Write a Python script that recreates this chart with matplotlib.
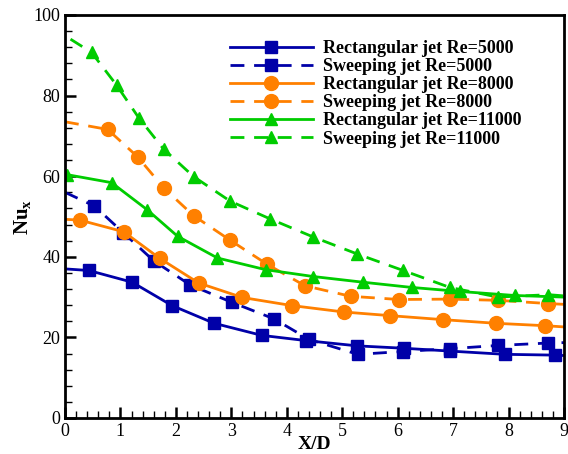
import matplotlib
matplotlib.use('Agg')
import matplotlib.pyplot as plt
from matplotlib.ticker import MultipleLocator

plt.rcParams['font.family'] = ['Liberation Serif', 'DejaVu Serif']
plt.rcParams['mathtext.fontset'] = 'custom'
plt.rcParams['mathtext.rm'] = 'Liberation Serif'
plt.rcParams['mathtext.bf'] = 'Liberation Serif:bold'

# curve points (first/last are line ends without a marker)
x_rect5000 = [0.0, 0.43, 1.21, 1.93, 2.69, 3.55, 4.35, 5.27, 6.12, 6.95, 7.93, 8.84, 9.0]
y_rect5000 = [37.0, 36.6, 33.7, 27.9, 23.5, 20.5, 19.2, 17.9, 17.3, 16.6, 15.8, 15.6, 15.5]

x_sweep5000 = [0.0, 0.53, 1.05, 1.60, 2.26, 3.01, 3.77, 4.40, 5.28, 6.10, 6.95, 7.81, 8.71, 9.0]
y_sweep5000 = [56.0, 52.6, 46.0, 39.0, 33.0, 28.7, 24.6, 19.5, 15.8, 16.5, 17.2, 18.0, 18.6, 18.7]

x_rect8000 = [0.0, 0.27, 1.06, 1.71, 2.41, 3.20, 4.09, 5.03, 5.86, 6.82, 7.77, 8.66, 9.0]
y_rect8000 = [49.3, 49.1, 46.2, 39.6, 33.5, 29.9, 27.9, 26.3, 25.4, 24.4, 23.5, 22.9, 22.6]

x_sweep8000 = [0.0, 0.77, 1.31, 1.78, 2.32, 2.98, 3.65, 4.33, 5.15, 6.03, 6.94, 7.81, 8.71, 9.0]
y_sweep8000 = [73.5, 71.6, 64.8, 57.1, 50.2, 44.1, 38.1, 32.8, 30.2, 29.4, 29.5, 29.2, 28.4, 28.2]

x_rect11000 = [0.0, 0.03, 0.84, 1.48, 2.03, 2.75, 3.62, 4.48, 5.37, 6.25, 7.12, 8.11, 9.0]
y_rect11000 = [60.5, 60.4, 58.4, 51.7, 45.1, 39.7, 36.8, 35.1, 33.7, 32.4, 31.4, 30.4, 30.0]

x_sweep11000 = [0.1, 0.48, 0.93, 1.33, 1.78, 2.32, 2.98, 3.70, 4.48, 5.27, 6.10, 6.94, 7.81, 8.72, 9.0]
y_sweep11000 = [94.0, 90.7, 82.6, 74.5, 66.7, 59.9, 53.8, 49.4, 44.9, 40.7, 36.6, 32.4, 30.0, 30.6, 30.3]

series = [
    ('Rectangular jet Re=5000', x_rect5000, y_rect5000, '#0000A8', '-', 's', 8),
    ('Sweeping jet Re=5000', x_sweep5000, y_sweep5000, '#0000A8', '--', 's', 8),
    ('Rectangular jet Re=8000', x_rect8000, y_rect8000, '#FF8000', '-', 'o', 10),
    ('Sweeping jet Re=8000', x_sweep8000, y_sweep8000, '#FF8000', '--', 'o', 10),
    ('Rectangular jet Re=11000', x_rect11000, y_rect11000, '#00CC00', '-', '^', 9),
    ('Sweeping jet Re=11000', x_sweep11000, y_sweep11000, '#00CC00', '--', '^', 9),
]

fig = plt.figure(figsize=(5.68, 4.54), dpi=100)
ax = fig.add_axes([0.1144, 0.0793, 0.8786, 0.8877])

for label, xs, ys, color, ls, marker, ms in series:
    line, = ax.plot(xs, ys, color=color, linestyle=ls, linewidth=2.0,
                    marker=marker, markersize=ms,
                    markevery=list(range(1, len(xs) - 1)), label=label)
    if ls == '--':
        line.set_dashes((5.0, 3.5))

ax.set_xlim(0, 9)
ax.set_ylim(0, 100)
ax.xaxis.set_major_locator(MultipleLocator(1))
ax.xaxis.set_minor_locator(MultipleLocator(0.2))
ax.yaxis.set_major_locator(MultipleLocator(20))
ax.yaxis.set_minor_locator(MultipleLocator(4))
ax.tick_params(which='both', direction='in', top=False, right=False, labelsize=13)
ax.tick_params(which='major', length=8, width=1.8)
ax.tick_params(which='minor', length=5, width=1.0)
for sp in ax.spines.values():
    sp.set_linewidth(2.0)

ax.set_xlabel('X/D', fontsize=14, fontweight='bold', labelpad=-3)
ax.set_ylabel(r'$\mathbf{Nu_x}$', fontsize=15, labelpad=0)

ax.legend(loc='upper left', bbox_to_anchor=(0.298, 0.978), frameon=False,
          handlelength=4.6, handletextpad=0.55, labelspacing=0.06,
          prop={'family': 'Liberation Serif', 'weight': 'bold', 'size': 13})

fig.savefig('out.png', dpi=100)
